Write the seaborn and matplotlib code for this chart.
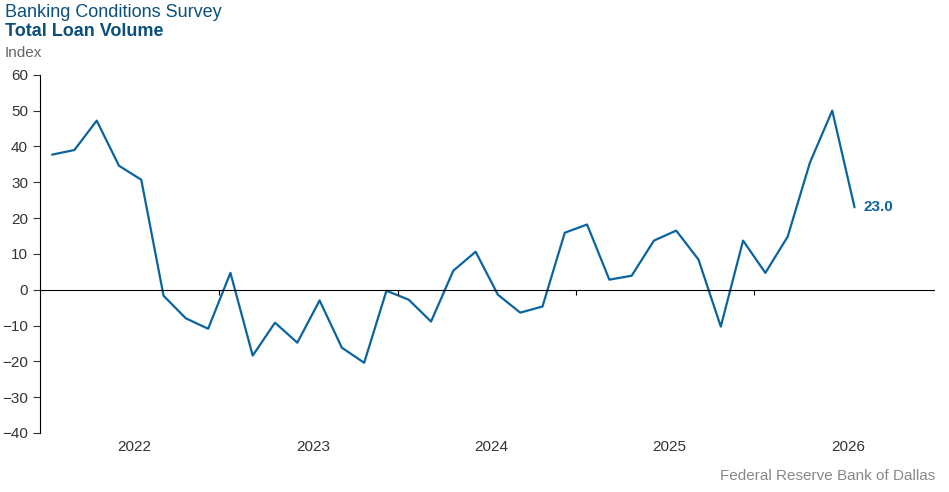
import numpy as np
import pandas as pd
import matplotlib
matplotlib.use("Agg")
import matplotlib.pyplot as plt
import seaborn as sns

values = [37.7, 39.0, 47.2, 34.6, 30.7, -1.7, -8.0, -10.9, 4.7, -18.4, -9.2, -14.8,
          -3.0, -16.2, -20.4, -0.3, -2.8, -8.9, 5.3, 10.6, -1.4, -6.4, -4.7, 15.9,
          18.2, 2.8, 3.9, 13.7, 16.5, 8.4, -10.3, 13.7, 4.7, 14.8, 35.5, 50.0, 23.0]
years = ["2022", "2023", "2024", "2025", "2026"]

df = pd.DataFrame({"i": np.arange(len(values)), "v": values})

sns.set_style("white")
plt.rcParams["font.family"] = ["Liberation Sans", "DejaVu Sans"]
blue = "#0a64a0"
dark = "#0b4f7c"

fig = plt.figure(figsize=(9.49, 4.92), dpi=100)
ax = fig.add_axes([0.042, 0.12, 0.943, 0.728])
sns.lineplot(data=df, x="i", y="v", ax=ax, color=blue, linewidth=1.6)

ax.set_xlim(-0.55, 39.6)
ax.set_ylim(-40, 60)
ax.set_yticks(range(-40, 61, 10))
ax.tick_params(axis="y", labelsize=11, colors="#333333", length=5, direction="out", left=True)
ax.axhline(0, color="black", linewidth=0.8)
for s in ["top", "right", "bottom"]:
    ax.spines[s].set_visible(False)
ax.spines["left"].set_color("black")
ax.spines["left"].set_linewidth(0.8)

ax.set_xticks([])
for k in range(4):
    ax.vlines(7.5 + 8 * k, -1.6, 0, color="black", linewidth=0.8)
for k, y in enumerate(years):
    ax.text(3.7 + 8 * k, -44, y, ha="center", va="center", fontsize=11, color="#333333")
ax.set_xlabel("")
ax.set_ylabel("")

ax.text(len(values) - 1 + 0.4, values[-1], f"{values[-1]:.1f}", color=blue,
        fontsize=11, fontweight="bold", va="center", ha="left")

fig.text(0.005, 0.975, "Banking Conditions Survey", fontsize=13, color=dark, va="center")
fig.text(0.005, 0.935, "Total Loan Volume", fontsize=13, color=dark, va="center", fontweight="bold")
fig.text(0.005, 0.893, "Index", fontsize=11, color="#666666", va="center")
fig.text(0.985, 0.033, "Federal Reserve Bank of Dallas", fontsize=11, color="#888888",
         ha="right", va="center")

fig.savefig("out.png", dpi=100)
